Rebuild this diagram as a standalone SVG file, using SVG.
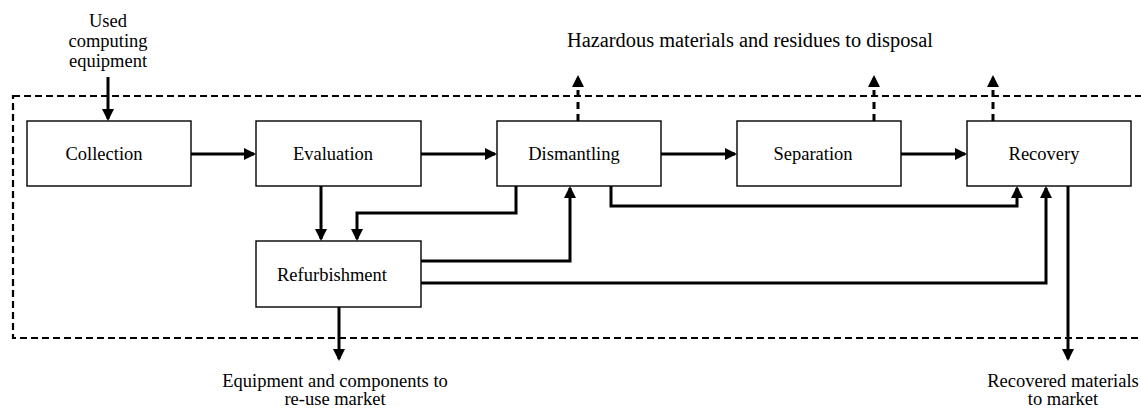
<svg xmlns="http://www.w3.org/2000/svg" width="1141" height="408" viewBox="0 0 1141 408">
<defs>
<marker id="ah" markerUnits="userSpaceOnUse" markerWidth="12" markerHeight="12" refX="10" refY="6" orient="auto">
<path d="M0,0 L12,6 L0,12 z" fill="#000"/>
</marker>
<style>
.box{fill:#fff;stroke:#000;stroke-width:1.4}
.lbl{font-size:18.5px;fill:#000;text-anchor:middle}
.c{fill:none;stroke:#000;stroke-width:3;marker-end:url(#ah)}
.d{fill:none;stroke:#000;stroke-width:3;stroke-dasharray:7,5;marker-end:url(#ah)}
.frame{fill:none;stroke:#000;stroke-width:2.2;stroke-dasharray:7,4}
</style>
</defs>
<rect class="frame" x="13" y="96" width="1140" height="242"/>
<g id="connectors">
<path class="c" d="M108 77 V119"/>
<path class="c" d="M191 154 H254"/>
<path class="c" d="M421 154 H495"/>
<path class="c" d="M661 154 H735"/>
<path class="c" d="M901 154 H965"/>
<path class="c" d="M321 186 V239"/>
<path class="c" d="M516 186 V213 H357 V239"/>
<path class="c" d="M421 261 H570 V188"/>
<path class="c" d="M421 283 H1046 V188"/>
<path class="c" d="M611 186 V206 H1017 V188"/>
<path class="c" d="M1068 186 V359"/>
<path class="c" d="M339 307 V359"/>
<path class="d" d="M578 121 V77"/>
<path class="d" d="M874 121 V77"/>
<path class="d" d="M993 121 V77"/>
</g>
<g font-family="'Liberation Serif', 'Times New Roman', 'DejaVu Serif', serif">
<g id="collection"><rect class="box" x="27" y="121" width="164" height="65"/><text class="lbl" x="104" y="160">Collection</text></g>
<g id="evaluation"><rect class="box" x="256" y="121" width="165" height="65"/><text class="lbl" x="333" y="160">Evaluation</text></g>
<g id="dismantling"><rect class="box" x="497" y="121" width="164" height="65"/><text class="lbl" x="574" y="160">Dismantling</text></g>
<g id="separation"><rect class="box" x="737" y="121" width="164" height="65"/><text class="lbl" x="813" y="160">Separation</text></g>
<g id="recovery"><rect class="box" x="967" y="121" width="164" height="65"/><text class="lbl" x="1044" y="160">Recovery</text></g>
<g id="refurbishment"><rect class="box" x="256" y="241" width="165" height="66"/><text class="lbl" x="332" y="281">Refurbishment</text></g>
<g id="input"><text class="lbl" x="108" y="27">Used</text><text class="lbl" x="108" y="47">computing</text><text class="lbl" x="108" y="67">equipment</text></g>
<g id="disposal"><text class="lbl" x="750" y="47" font-size="20" style="font-size:20px" textLength="366" lengthAdjust="spacingAndGlyphs">Hazardous materials and residues to disposal</text></g>
<g id="reuse"><text class="lbl" x="335" y="387">Equipment and components to</text><text class="lbl" x="335" y="405">re-use market</text></g>
<g id="market"><text class="lbl" x="1063" y="387">Recovered materials</text><text class="lbl" x="1063" y="405">to market</text></g>
</g>
</svg>
